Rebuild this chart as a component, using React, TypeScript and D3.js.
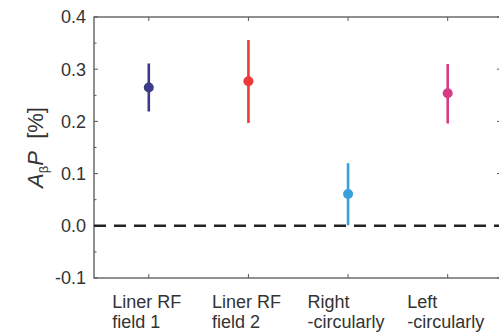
import React, { useEffect, useRef } from 'react';
import * as d3 from 'd3';

// categories (two-line labels) and measured values
const categories = [
  ["Liner RF", "field 1"],
  ["Liner RF", "field 2"],
  ["Right", "-circularly"],
  ["Left", "-circularly"],
];
const values = [0.265, 0.277, 0.061, 0.254];
const errLow = [0.219, 0.197, 0.001, 0.196];
const errHigh = [0.311, 0.356, 0.12, 0.31];
const colors = ["#3b3c85", "#ec3a3b", "#38a0dc", "#d93c86"];
const yTicks = [-0.1, 0.0, 0.1, 0.2, 0.3, 0.4];
const yMinorTicks = [-0.05, 0.05, 0.15, 0.25, 0.35];

const W = 499;
const H = 333;
const FONT = "'Liberation Sans', Arial, sans-serif";

export default function App() {
  const ref = useRef<SVGSVGElement>(null);

  useEffect(() => {
    if (!ref.current) return;
    const svg = d3.select(ref.current);
    svg.selectAll("*").remove();

    const x = d3.scaleLinear().domain([0.45, 4.535]).range([94, 501]);
    const y = d3.scaleLinear().domain([-0.1, 0.4]).range([278, 17]);
    const [x0, x1] = x.range();
    const [yb, yt] = y.range();
    const frame = "#555";

    // frame
    svg.append("rect")
      .attr("x", x0).attr("y", yt)
      .attr("width", x1 - x0).attr("height", yb - yt)
      .attr("fill", "none").attr("stroke", frame).attr("stroke-width", 1.3);

    // y ticks (inward)
    yTicks.forEach(t => {
      svg.append("line").attr("x1", x0).attr("x2", x0 + 4)
        .attr("y1", y(t)).attr("y2", y(t)).attr("stroke", frame).attr("stroke-width", 1);
      svg.append("line").attr("x1", x1).attr("x2", x1 - 4)
        .attr("y1", y(t)).attr("y2", y(t)).attr("stroke", frame).attr("stroke-width", 1);
      svg.append("text")
        .attr("x", x0 - 8).attr("y", y(t))
        .attr("dy", "0.36em")
        .attr("text-anchor", "end")
        .style("font-family", FONT).style("font-size", "18px").style("fill", "#333")
        .text(t.toFixed(1));
    });
    yMinorTicks.forEach(t => {
      svg.append("line").attr("x1", x0).attr("x2", x0 + 2.5)
        .attr("y1", y(t)).attr("y2", y(t)).attr("stroke", frame).attr("stroke-width", 1);
    });

    // x ticks top and bottom
    categories.forEach((_, i) => {
      const cx = x(i + 1);
      svg.append("line").attr("x1", cx).attr("x2", cx)
        .attr("y1", yb).attr("y2", yb - 4).attr("stroke", frame).attr("stroke-width", 1);
      svg.append("line").attr("x1", cx).attr("x2", cx)
        .attr("y1", yt).attr("y2", yt + 4).attr("stroke", frame).attr("stroke-width", 1);
    });

    // category labels: left-aligned block centered on the tick
    categories.forEach((lines, i) => {
      const g = svg.append("g");
      const txt = g.append("text")
        .style("font-family", FONT).style("font-size", "18px").style("fill", "#333");
      lines.forEach((l, j) => {
        txt.append("tspan").attr("x", 0).attr("y", 308 + j * 20).text(l);
      });
      const bw = (txt.node() as SVGTextElement).getBBox().width;
      g.attr("transform", `translate(${x(i + 1) - bw / 2 - 2},0)`);
    });

    // zero dashed line
    svg.append("line")
      .attr("x1", x0).attr("x2", x1)
      .attr("y1", y(0)).attr("y2", y(0))
      .attr("stroke", "#222").attr("stroke-width", 2.5)
      .attr("stroke-dasharray", "12,8");

    // error bars + points
    values.forEach((v, i) => {
      svg.append("line")
        .attr("x1", x(i + 1)).attr("x2", x(i + 1))
        .attr("y1", y(errLow[i])).attr("y2", y(errHigh[i]))
        .attr("stroke", colors[i]).attr("stroke-width", 2.6);
      svg.append("circle")
        .attr("cx", x(i + 1)).attr("cy", y(v)).attr("r", 5)
        .attr("fill", colors[i]);
    });

    // y axis label
    const lab = svg.append("text")
      .attr("transform", `translate(43,${(yt + yb) / 2}) rotate(-90)`)
      .attr("text-anchor", "middle")
      .style("font-family", FONT).style("font-size", "22px").style("fill", "#333");
    lab.append("tspan").style("font-style", "italic").text("A");
    lab.append("tspan").attr("dy", 5).style("font-size", "13px").text("β");
    lab.append("tspan").attr("dy", -5).style("font-style", "italic").text("P");
    lab.append("tspan").text("\u00a0\u00a0[%]");
  }, []);

  return (
    <svg ref={ref} width={W} height={H}
      style={{ position: "absolute", left: 0, top: 0, background: "#fff" }} />
  );
}
